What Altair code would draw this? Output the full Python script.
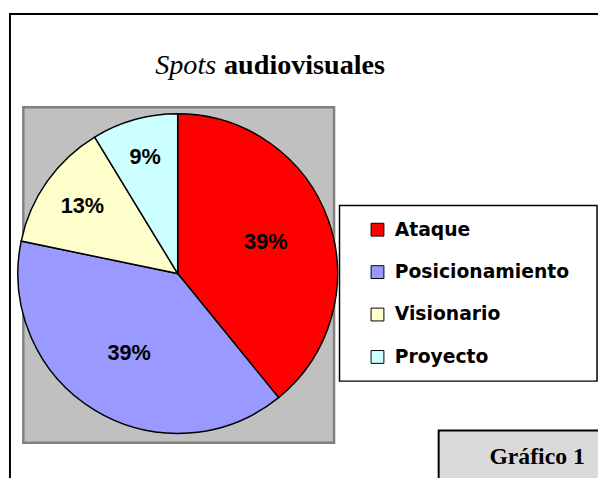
import altair as alt
import pandas as pd

# ---- data ----
CATEGORIES = ["Ataque", "Posicionamiento", "Visionario", "Proyecto"]
COUNTS = [9, 9, 3, 2]
COLORS = ["#FF0000", "#9999FF", "#FFFFCC", "#CCFFFF"]
TITLE_ITALIC = "Spots"
TITLE_BOLD = "audiovisuales"
CAPTION = "Gráfico 1"

df = pd.DataFrame({"cat": CATEGORIES, "count": COUNTS, "idx": list(range(len(CATEGORIES)))})
one = alt.Data(values=[{"k": 0}])

W, H = 598, 470
CX, CY, R = 172, 266, 162

frame = alt.Chart(one).mark_rect(fill="white", stroke="black", strokeWidth=2).encode(
    x=alt.value(2), x2=alt.value(800), y=alt.value(3), y2=alt.value(800))

plot_bg = alt.Chart(one).mark_rect(fill="#C0C0C0", stroke="#808080", strokeWidth=2.5).encode(
    x=alt.value(15.5), x2=alt.value(330.5), y=alt.value(97.5), y2=alt.value(437.5))

title1 = alt.Chart(one).mark_text(
    text=TITLE_ITALIC, font="Liberation Serif", fontSize=28.5, fontStyle="italic",
    align="right", baseline="alphabetic", color="black").encode(
    x=alt.value(211), y=alt.value(64))
title2 = alt.Chart(one).mark_text(
    text=TITLE_BOLD, font="Liberation Serif", fontSize=28.5, fontWeight="bold",
    align="left", baseline="alphabetic", color="black").encode(
    x=alt.value(219), y=alt.value(64))

pie = alt.Chart(df).mark_arc(stroke="black", strokeWidth=1.5, radius=R).encode(
    theta=alt.Theta("count:Q", stack=True),
    order=alt.Order("idx:Q"),
    x=alt.value(CX), y=alt.value(CY),
    color=alt.Color(
        "cat:N",
        scale=alt.Scale(domain=CATEGORIES, range=COLORS),
        sort=CATEGORIES,
        legend=alt.Legend(
            title=None, orient="none", legendX=365, legendY=212,
            symbolType="square", symbolSize=169, symbolStrokeColor="black",
            symbolStrokeWidth=1, symbolOpacity=1,
            labelFont="DejaVu Sans", labelFontWeight="bold", labelFontSize=19,
            labelColor="black", labelOffset=8, rowPadding=23, labelLimit=400,
            padding=0,
        ),
    ),
)

labels = alt.Chart(df).transform_joinaggregate(
    total="sum(count)"
).transform_window(
    cum="sum(count)", sort=[alt.SortField("idx")]
).transform_calculate(
    mid="2 * PI * (datum.cum - datum.count / 2) / datum.total",
    label="round(100 * datum.count / datum.total) + '%'",
    lr="130 - 90 * datum.count / datum.total",
).mark_text(font="Liberation Sans", fontWeight="bold", fontSize=22, color="black").encode(
    x=alt.value(CX), y=alt.value(CY),
    theta=alt.Theta("mid:Q", scale=None, stack=False),
    radius=alt.Radius("lr:Q", scale=None),
    text=alt.Text("label:N"),
)

legend_box = alt.Chart(one).mark_rect(fill="white", stroke="black", strokeWidth=1.5).encode(
    x=alt.value(336), x2=alt.value(597), y=alt.value(197), y2=alt.value(375))

cap_box = alt.Chart(one).mark_rect(fill="#D9D9D9", stroke="black", strokeWidth=2).encode(
    x=alt.value(436.5), x2=alt.value(800), y=alt.value(425), y2=alt.value(800))
cap_text = alt.Chart(one).mark_text(
    text=CAPTION, font="Liberation Serif", fontSize=24, fontWeight="bold",
    align="left", baseline="alphabetic", color="black").encode(
    x=alt.value(488), y=alt.value(459))

chart = alt.layer(
    frame, plot_bg, title1, title2, legend_box, pie, labels, cap_box, cap_text
).properties(
    width=W, height=H, autosize=alt.AutoSizeParams(type="none"), padding=0
).configure_view(stroke=None)

chart.save("out.html", embed_options={"renderer": "svg", "actions": False})
